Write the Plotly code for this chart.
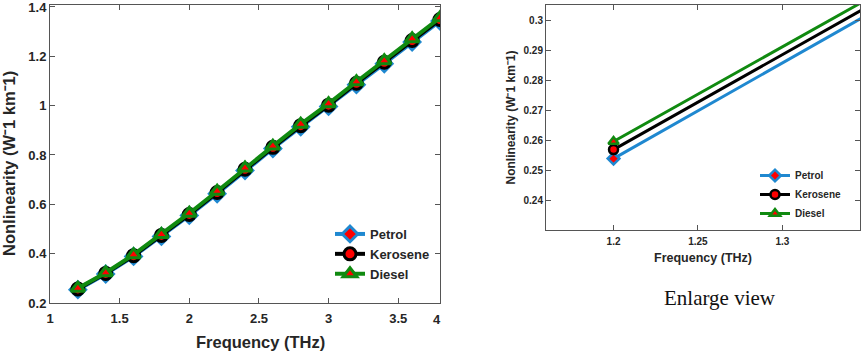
import plotly.graph_objects as go

freq = [1.2, 1.4, 1.6, 1.8, 2.0, 2.2, 2.4, 2.6, 2.8, 3.0, 3.2, 3.4, 3.6, 3.8]
petrol = [0.254, 0.3175, 0.389, 0.470, 0.555, 0.643, 0.737, 0.826, 0.914, 0.997, 1.085, 1.170, 1.258, 1.343]
kerosene = [0.257, 0.320, 0.392, 0.474, 0.559, 0.648, 0.742, 0.831, 0.919, 1.002, 1.091, 1.176, 1.264, 1.349]
diesel = [0.2597, 0.3225, 0.396, 0.478, 0.564, 0.653, 0.747, 0.836, 0.925, 1.008, 1.097, 1.182, 1.271, 1.356]

series_names = ["Petrol", "Kerosene", "Diesel"]
series_vals = [petrol, kerosene, diesel]
colors = ["#1f88d0", "#000000", "#108a10"]
symbols = ["diamond", "circle", "triangle-up"]

left_xticks = [1, 1.5, 2, 2.5, 3, 3.5]
left_yticks = [0.2, 0.4, 0.6, 0.8, 1.0, 1.2, 1.4]
right_xticks = [1.2, 1.25, 1.3]
right_yticks = [0.24, 0.25, 0.26, 0.27, 0.28, 0.29, 0.3]

x_title = "Frequency (THz)"
y_title = "Nonlinearity (W⁻1 km⁻1)"

W, H = 865, 353
def px(x):
    return x / W
def py(y):
    return (H - y) / H

fig = go.Figure()
for name, vals, c, s in zip(series_names, series_vals, colors, symbols):
    fig.add_trace(go.Scatter(
        x=freq, y=vals, name=name, mode="lines+markers",
        line=dict(color=c, width=4),
        marker=dict(symbol=s, size=12, color="#ff0000", line=dict(color=c, width=3)),
        xaxis="x", yaxis="y", legend="legend"))
for name, vals, c, s in zip(series_names, series_vals, colors, symbols):
    fig.add_trace(go.Scatter(
        x=freq, y=vals, name=name, mode="lines+markers",
        line=dict(color=c, width=3),
        marker=dict(symbol=s, size=9, color="#ff0000", line=dict(color=c, width=2.5)),
        xaxis="x2", yaxis="y2", legend="legend2"))

axis_common = dict(showline=True, linecolor="#555555", linewidth=1, mirror="ticks",
                   ticks="inside", ticklen=5, tickcolor="#555555", showgrid=False,
                   zeroline=False, automargin=False, ticklabeloverflow="allow")
fam = "Liberation Sans, Arial"
tickfont_l = dict(family=fam, size=13, color="#262626", weight=700)
tickfont_r = dict(family=fam, size=10, color="#262626", weight=700)
titlefont_l = dict(family=fam, size=16.5, color="#262626", weight=700)

fig.update_layout(
    width=W, height=H, margin=dict(l=0, r=0, t=0, b=0, autoexpand=False),
    paper_bgcolor="white", plot_bgcolor="white",
    xaxis=dict(domain=[px(50), px(440)], range=[1, 3.8], tickvals=left_xticks,
               anchor="y", tickfont=tickfont_l, ticklabelstandoff=3,
               **axis_common),
    yaxis=dict(domain=[py(303), py(5)], range=[0.2, 1.408], tickvals=left_yticks,
               ticktext=["0.2", "0.4", "0.6", "0.8", "1", "1.2", "1.4"],
               anchor="x", tickfont=tickfont_l,
               **axis_common),
    xaxis2=dict(domain=[px(546), px(860)], range=[1.16, 1.346], tickvals=right_xticks,
                anchor="y2", tickfont=tickfont_r, ticklabelstandoff=2,
                title=dict(text=x_title, standoff=7,
                           font=dict(family=fam, size=12.5, color="#262626", weight=700)),
                **axis_common),
    yaxis2=dict(domain=[py(230), py(5)], range=[0.2303, 0.305], tickvals=right_yticks,
                anchor="x2", tickfont=tickfont_r,
                title=dict(text=y_title, standoff=5,
                           font=dict(family=fam, size=12, color="#262626", weight=700)),
                **axis_common),
    legend=dict(x=px(330), y=py(219), xanchor="left", yanchor="top",
                bgcolor="rgba(0,0,0,0)", borderwidth=0, tracegroupgap=0,
                font=dict(family=fam, size=13, color="#262626", weight=700)),
    legend2=dict(x=px(755), y=py(161), xanchor="left", yanchor="top",
                 bgcolor="rgba(0,0,0,0)", borderwidth=0, tracegroupgap=0,
                 font=dict(family=fam, size=10, color="#262626", weight=700)),
    showlegend=True,
    annotations=[
        dict(text="4", xref="paper", yref="paper", x=px(437), y=py(319), showarrow=False,
             xanchor="center", yanchor="middle", font=tickfont_l),
        dict(text=x_title, xref="paper", yref="paper", x=px(260), y=py(342), showarrow=False,
             xanchor="center", yanchor="middle", font=titlefont_l),
        dict(text=y_title, xref="paper", yref="paper", x=px(9), y=py(164), showarrow=False,
             xanchor="center", yanchor="middle", textangle=-90, font=titlefont_l),
        dict(text="Enlarge view", xref="paper", yref="paper", x=px(720), y=py(298),
             showarrow=False, xanchor="center", yanchor="middle",
             font=dict(family="Liberation Serif, DejaVu Serif", size=21, color="#111111")),
    ],
)

fig.write_html("out.html", config={"displayModeBar": False},
               post_script="document.body.style.margin='0';document.body.style.overflow='hidden';")
